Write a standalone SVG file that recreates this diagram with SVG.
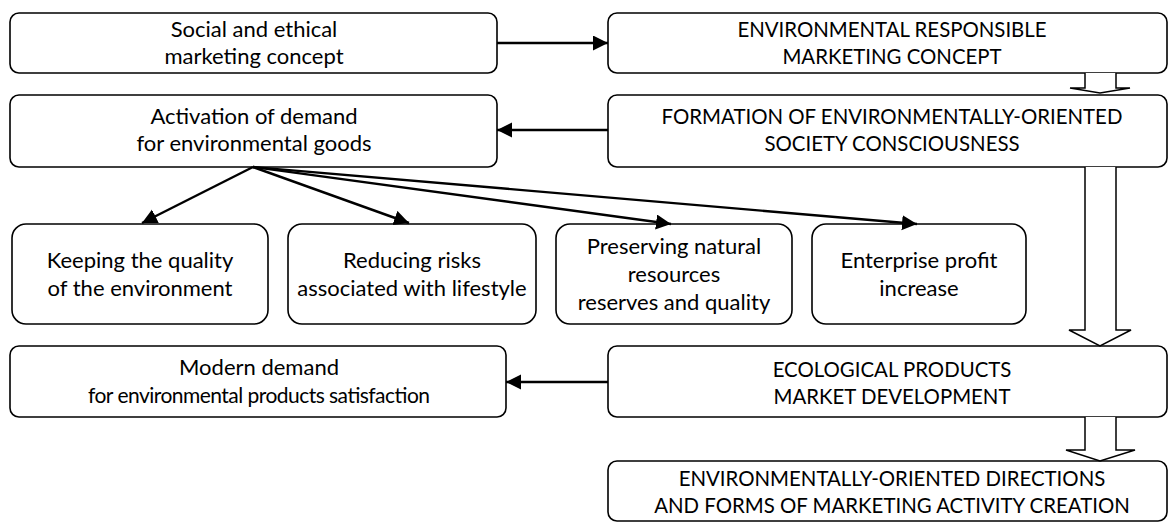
<svg xmlns="http://www.w3.org/2000/svg" width="1170" height="523" viewBox="0 0 1170 523">
<style>
  .box { fill: #ffffff; stroke: #000000; stroke-width: 1.6; }
  .t { font-family: Lato, "Open Sans", "Liberation Sans", sans-serif; font-size: 22px; fill: #000000; text-anchor: middle; }
  .caps { font-size: 20.4px; }
  .con { fill: none; stroke: #000000; stroke-width: 2.4; }
  .hollow { fill: #ffffff; stroke: #000000; stroke-width: 1.5; stroke-linejoin: miter; }
</style>
<defs>
  <marker id="ah" markerUnits="userSpaceOnUse" markerWidth="16" markerHeight="16" refX="15" refY="7.5" orient="auto">
    <path d="M0,0 L15,7.5 L0,15 Z" fill="#000000"/>
  </marker>
</defs>
<rect width="1170" height="523" fill="#ffffff"/>

<g id="n-social">
  <rect class="box" x="10" y="13" width="487" height="60" rx="9"/>
  <text class="t" x="254" y="37">Social and ethical</text>
  <text class="t" x="254" y="64">marketing concept</text>
</g>
<g id="n-env-resp">
  <rect class="box" x="608" y="13" width="559" height="60" rx="9"/>
  <text class="t caps" x="892" y="37">ENVIRONMENTAL RESPONSIBLE</text>
  <text class="t caps" x="892" y="64">MARKETING CONCEPT</text>
</g>
<g id="n-activation">
  <rect class="box" x="10" y="95" width="487" height="72" rx="9"/>
  <text class="t" x="254" y="124">Activation of demand</text>
  <text class="t" x="254" y="151">for environmental goods</text>
</g>
<g id="n-formation">
  <rect class="box" x="608" y="95" width="559" height="72" rx="9"/>
  <text class="t caps" x="892" y="124">FORMATION OF ENVIRONMENTALLY-ORIENTED</text>
  <text class="t caps" x="892" y="151">SOCIETY CONSCIOUSNESS</text>
</g>
<g id="n-keeping">
  <rect class="box" x="12" y="224" width="256" height="100" rx="14"/>
  <text class="t" x="140" y="268">Keeping the quality</text>
  <text class="t" x="140" y="296">of the environment</text>
</g>
<g id="n-reducing">
  <rect class="box" x="288" y="224" width="248" height="100" rx="14"/>
  <text class="t" x="412" y="268">Reducing risks</text>
  <text class="t" x="412" y="296">associated with lifestyle</text>
</g>
<g id="n-preserving">
  <rect class="box" x="556" y="224" width="236" height="100" rx="14"/>
  <text class="t" x="674" y="254">Preserving natural</text>
  <text class="t" x="674" y="282">resources</text>
  <text class="t" x="674" y="310">reserves and quality</text>
</g>
<g id="n-enterprise">
  <rect class="box" x="812" y="224" width="214" height="100" rx="14"/>
  <text class="t" x="919" y="268">Enterprise profit</text>
  <text class="t" x="919" y="296">increase</text>
</g>
<g id="n-modern">
  <rect class="box" x="10" y="346" width="496" height="71" rx="9"/>
  <text class="t" x="259" y="375">Modern demand</text>
  <text class="t" x="259" y="403" style="font-size:21px" textLength="342" lengthAdjust="spacing">for environmental products satisfaction</text>
</g>
<g id="n-ecological">
  <rect class="box" x="608" y="346" width="559" height="71" rx="9"/>
  <text class="t caps" x="892" y="377">ECOLOGICAL PRODUCTS</text>
  <text class="t caps" x="892" y="404">MARKET DEVELOPMENT</text>
</g>
<g id="n-directions">
  <rect class="box" x="608" y="461" width="559" height="60" rx="9"/>
  <text class="t caps" x="892" y="486">ENVIRONMENTALLY-ORIENTED DIRECTIONS</text>
  <text class="t caps" x="892" y="513">AND FORMS OF MARKETING ACTIVITY CREATION</text>
</g>

<g id="connectors">
  <line class="con" x1="497" y1="43" x2="608" y2="43" marker-end="url(#ah)"/>
  <line class="con" x1="608" y1="130" x2="497" y2="130" marker-end="url(#ah)"/>
  <line class="con" x1="608" y1="382" x2="506" y2="382" marker-end="url(#ah)"/>
  <line class="con" x1="253" y1="167" x2="142" y2="223" marker-end="url(#ah)"/>
  <line class="con" x1="253" y1="167" x2="409" y2="223" marker-end="url(#ah)"/>
  <line class="con" x1="253" y1="167" x2="671" y2="224" marker-end="url(#ah)"/>
  <line class="con" x1="253" y1="167" x2="917" y2="224" marker-end="url(#ah)"/>
  <path class="hollow" d="M1085,73 L1085,88 L1070,88 L1100,93 L1130,88 L1116,88 L1116,73"/>
  <path class="hollow" d="M1085,167 L1085,330 L1069,330 L1100,346 L1131,330 L1116,330 L1116,167"/>
  <path class="hollow" d="M1085,417 L1085,450 L1066,450 L1100,461 L1135,450 L1116,450 L1116,417"/>
</g>
</svg>
